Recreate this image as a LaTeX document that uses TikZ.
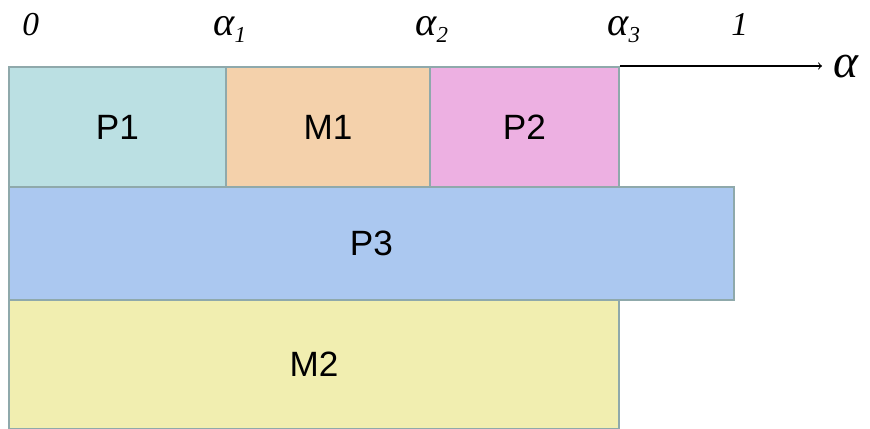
\documentclass[tikz,border=0pt]{standalone}
\usepackage{fontspec}
\setmainfont{Liberation Serif}
\setsansfont{Liberation Sans}
\definecolor{edgegray}{HTML}{8FA9AB}
\definecolor{pone}{HTML}{BBE0E3}
\definecolor{mone}{HTML}{F4D1AB}
\definecolor{ptwo}{HTML}{EDB0E2}
\definecolor{pthree}{HTML}{ABC8F0}
\definecolor{mtwo}{HTML}{F1EEB0}
\newcommand{\asub}[1]{{\fontsize{23}{23}\selectfont α}\raisebox{-0.45ex}{\fontsize{13}{13}\selectfont #1}}
\tikzset{
  part/.style={draw=edgegray, line width=1.1pt, anchor=north west, inner sep=0pt,
    font=\sffamily\fontsize{20}{24}\selectfont},
  tick/.style={anchor=base west, inner sep=0pt, font=\itshape\fontsize{19}{20}\selectfont}
}

\begin{document}
\begin{tikzpicture}
\useasboundingbox (0,0) rectangle (17.4,8.58);
% top row
\node[part, fill=pone, minimum width=4.34cm, minimum height=2.4cm] (P1) at (0.16,7.26) {P1};
\node[part, fill=mone, minimum width=4.08cm, minimum height=2.4cm] (M1) at (4.5,7.26) {M1};
\node[part, fill=ptwo, minimum width=3.78cm, minimum height=2.4cm] (P2) at (8.58,7.26) {P2};
% lower rows
\node[part, fill=pthree, minimum width=14.5cm, minimum height=2.26cm] (P3) at (0.16,4.86) {P3};
\node[part, fill=mtwo, minimum width=12.2cm, minimum height=2.58cm] (M2) at (0.16,2.6) {M2};
% axis
\node[tick, font=\itshape\fontsize{27}{30}\selectfont] (alpha) at (16.66,7.02) {α};
\coordinate (axisend) at (16.44,7.26);
\draw[->, line width=0.6pt] (P2.north east) -- (axisend);
% ticks
\node[tick] (t0) at (0.44,7.86) {0};
\node[tick] (a1) at (4.26,7.86) {\asub{1}};
\node[tick] (a2) at (8.3,7.86) {\asub{2}};
\node[tick] (a3) at (12.14,7.86) {\asub{3}};
\node[tick] (t1) at (14.62,7.86) {1};
\end{tikzpicture}
\end{document}
